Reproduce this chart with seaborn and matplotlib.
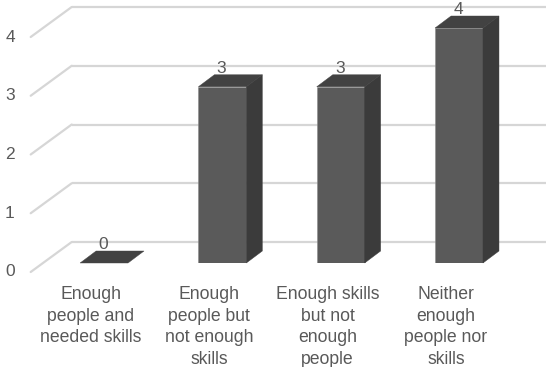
import numpy as np
import pandas as pd
import matplotlib
matplotlib.use("Agg")
import matplotlib.pyplot as plt
import seaborn as sns
from matplotlib.patches import Polygon

# ---- data ----
categories = ["Enough\npeople and\nneeded skills",
              "Enough\npeople but\nnot enough\nskills",
              "Enough skills\nbut not\nenough\npeople",
              "Neither\nenough\npeople nor\nskills"]
values = [0, 3, 3, 4]
y_ticks = [0, 1, 2, 3, 4]

sns.set_theme(style="white")
plt.rcParams["font.family"] = ["Liberation Sans", "DejaVu Sans"]

TXT = "#595959"
FRONT = "#5a5a5a"
TOP = "#424242"
SIDE = "#3b3b3b"
GRID = "#d6d6d6"
FS = 12.5
FS_CAT = 12.7

W, H = 546, 367
fig = plt.figure(figsize=(W / 100, H / 100), dpi=100)
ax = fig.add_axes([43 / W, 104 / H, 474 / W, 235 / H])

df = pd.DataFrame({"cat": categories, "val": values})
sns.barplot(data=df, x="cat", y="val", color=FRONT, saturation=1,
            width=0.405, ax=ax, zorder=3, edgecolor="#8a8a8a", linewidth=0.4)
ax.set_xlim(-0.516, 3.49)
ax.set_ylim(0, 4)
ax.set_axis_off()


def px2data(dx, dy):
    p0 = ax.transData.transform((0, 0))
    d = ax.transData.inverted().transform(p0 + np.array([dx, dy]))
    return d[0], d[1]


bdx, bdy = px2data(16, 12)        # bar depth
wdx, wdy = px2data(28.7, 21)      # back wall offset
fdx, fdy = px2data(-12.3, -9)     # front plane offset

x0, x1 = ax.get_xlim()
# back wall gridlines + side wall diagonals
for v in y_ticks:
    ax.plot([x0 + wdx, x1 + wdx + 0.2], [v + wdy, v + wdy], color=GRID,
            lw=1.6, zorder=1, clip_on=False, solid_capstyle="butt")
    ax.plot([x0 + fdx, x0 + wdx], [v + fdy, v + wdy], color=GRID,
            lw=1.6, zorder=1, clip_on=False)
    ax.annotate(str(v), xy=(x0, v), xytext=(-33, -9), textcoords="offset pixels",
                ha="center", va="center", fontsize=FS, color=TXT,
                annotation_clip=False)

# 3D faces of bars
for p in ax.patches:
    bx, bw, bh = p.get_x(), p.get_width(), p.get_height()
    top = [(bx, bh), (bx + bw, bh), (bx + bw + bdx, bh + bdy), (bx + bdx, bh + bdy)]
    ax.add_patch(Polygon(top, closed=True, facecolor=TOP, edgecolor=TOP,
                         lw=0.3, zorder=4, clip_on=False))
    if bh > 0:
        side = [(bx + bw, 0), (bx + bw + bdx, bdy), (bx + bw + bdx, bh + bdy), (bx + bw, bh)]
        ax.add_patch(Polygon(side, closed=True, facecolor=SIDE, edgecolor=SIDE,
                             lw=0.3, zorder=4, clip_on=False))

# value labels
for i, v in enumerate(values):
    ax.annotate(str(v), xy=(i, v), xytext=(-1, 14), textcoords="offset pixels",
                ha="center", va="baseline", fontsize=FS, color=TXT,
                annotation_clip=False)

# category labels
for i, c in enumerate(categories):
    ax.annotate(c, xy=(i, 0), xytext=(-13, -23), textcoords="offset pixels",
                ha="center", va="top", fontsize=FS_CAT, color=TXT,
                linespacing=1.36, multialignment="center", annotation_clip=False)

fig.savefig("out.png", dpi=100)
